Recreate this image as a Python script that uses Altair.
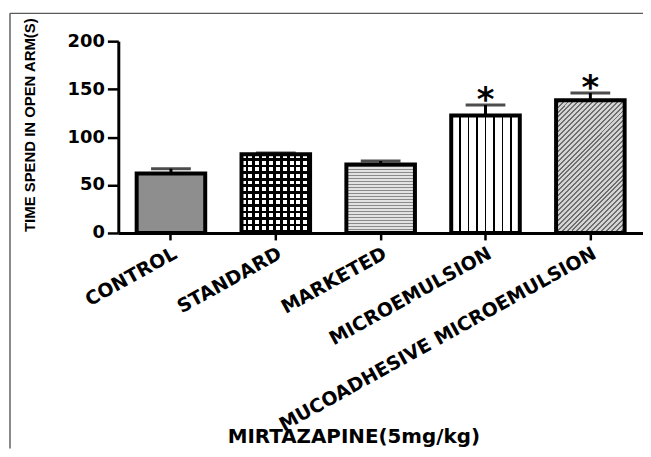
import altair as alt
import pandas as pd

categories = ["CONTROL", "STANDARD", "MARKETED", "MICROEMULSION", "MUCOADHESIVE MICROEMULSION"]
means = [62, 82, 71.5, 122.5, 138.5]
errors = [5, 1.5, 3.5, 11, 7.5]
sig = ["", "", "", "*", "*"]
y_ticks = [0, 50, 100, 150, 200]

y_title = "TIME SPEND IN OPEN ARM(S)"
x_title = "MIRTAZAPINE(5mg/kg)"

df = pd.DataFrame({"group": categories, "mean": means, "err": errors, "sig": sig})
df["upper"] = df["mean"] + df["err"]


def stripes(n, line, bg, frac, x2, y2, centered=False):
    stops = []
    for i in range(n):
        if centered:
            c = (i + 1) / (n + 1)
            a, b = c - frac / 2, c + frac / 2
        else:
            a, b = (i + 1 - frac) / n, (i + 1) / n
        stops += [
            {"offset": max(a, 0), "color": bg},
            {"offset": max(a, 0), "color": line},
            {"offset": min(b, 1), "color": line},
            {"offset": min(b, 1), "color": bg},
        ]
    stops = [{"offset": 0, "color": bg}] + stops + [{"offset": 1, "color": bg}]
    return {"gradient": "linear", "x1": 0, "y1": 0, "x2": x2, "y2": y2, "stops": stops}


fill_layers = {
    "CONTROL": ["#8e8e8e"],
    "STANDARD": [
        "white",
        stripes(12, "black", "rgba(255,255,255,0)", 0.4, 0, 1),
        stripes(10, "black", "rgba(255,255,255,0)", 0.4, 1, 0),
    ],
    "MARKETED": [stripes(23, "#8a8a8a", "#e2e2e2", 0.35, 0, 1)],
    "MICROEMULSION": [stripes(7, "black", "white", 0.022, 1, 0, centered=True)],
    "MUCOADHESIVE MICROEMULSION": [stripes(41, "#6e6e6e", "#d4d4d4", 0.4, 0.62, 1.2)],
}

x_enc = alt.X(
    "group:N",
    scale=alt.Scale(domain=categories, paddingInner=0.346, paddingOuter=0.175),
    title=x_title,
    axis=alt.Axis(
        labelAngle=331, labelAlign="right", labelBaseline="top",
        labelFont="DejaVu Sans", labelFontWeight="bold", labelFontSize=19,
        labelColor="black", labelPadding=4, labelLimit=500, labelOverlap=False,
        tickSize=7, tickWidth=2.5, tickColor="black",
        domainWidth=3, domainColor="black",
        titleFont="DejaVu Sans", titleFontWeight="bold", titleFontSize=20,
        titleColor="black", titleX=236.5, titleY=211, titleAlign="center",
        titleBaseline="alphabetic",
    ),
)
y_enc = alt.Y(
    "mean:Q",
    scale=alt.Scale(domain=[0, 200], nice=False),
    title=y_title,
    axis=alt.Axis(
        values=y_ticks, labelFont="DejaVu Sans", labelFontWeight="bold",
        labelFontSize=18, labelColor="black", labelPadding=3,
        tickSize=11, tickWidth=2.5, tickColor="black",
        domainWidth=3, domainColor="black",
        titleFont="Liberation Sans", titleFontWeight="bold", titleFontSize=15,
        titleColor="black", titleX=-89.5, titleY=84, titleAngle=270,
        titleAlign="center", titleBaseline="middle",
    ),
)

base = alt.Chart(df).encode(x=x_enc, y=y_enc)

layers = []
for cat, specs in fill_layers.items():
    for spec in specs:
        layers.append(
            base.transform_filter(alt.datum.group == cat).mark_bar(fill=spec, strokeWidth=0)
        )

outline = base.mark_bar(fill="transparent", stroke="black", strokeWidth=4)
errline = base.mark_rule(strokeWidth=3, color="black").encode(
    y=alt.Y("mean:Q", title=y_title), y2="upper:Q"
)
cap = base.mark_tick(size=40, thickness=3, color="black").encode(
    y=alt.Y("upper:Q", title=y_title)
)
stars = base.mark_text(
    font="DejaVu Sans", fontWeight="bold", fontSize=34, color="black",
    baseline="alphabetic", dy=6,
).encode(y=alt.Y("upper:Q", title=y_title), text="sig:N")

frame_df = pd.DataFrame({"k": [0]})
frame_left = alt.Chart(frame_df).mark_rule(color="#4a4a4a", strokeWidth=1.3).encode(
    x=alt.value(-109), y=alt.value(-28), y2=alt.value(410)
)
frame_top = alt.Chart(frame_df).mark_rule(color="#5a5a5a", strokeWidth=1.2).encode(
    x=alt.value(-109), x2=alt.value(528), y=alt.value(-28)
)

chart = alt.layer(
    frame_left, frame_top, *layers, errline, cap, outline, stars
).properties(
    width=528, height=193,
    padding={"left": 111, "top": 32, "right": 0, "bottom": 216},
    autosize="none",
).configure_view(strokeWidth=0).configure_axis(grid=False)

chart.save("out.html", embed_options={"renderer": "svg", "actions": False})
